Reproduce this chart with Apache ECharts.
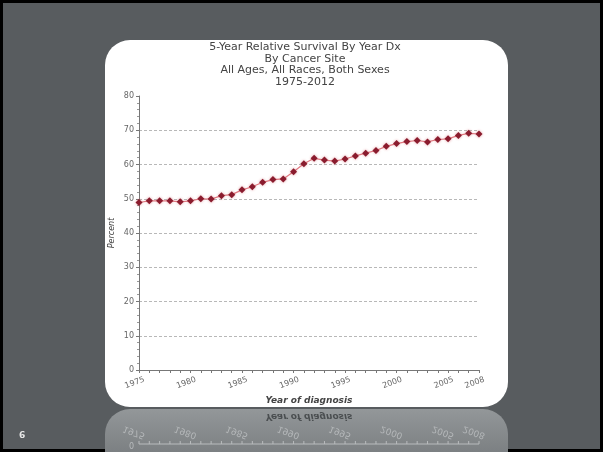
<!DOCTYPE html>
<html>
<head>
<meta charset="utf-8">
<script src="https://cdn.jsdelivr.net/npm/echarts@6/dist/echarts.min.js"></script>
<style>
  html, body { margin: 0; padding: 0; background: #000; }
  #chart { width: 603px; height: 452px; }
</style>
</head>
<body>
<div id="chart"></div>
<script>
// title lines of the chart
const titleLines = [
    '5-Year Relative Survival By Year Dx',
    'By Cancer Site',
    'All Ages, All Races, Both Sexes',
    '1975-2012'
]

const years = ['1975', '1976', '1977', '1978', '1979', '1980', '1981', '1982', '1983', '1984',
    '1985', '1986', '1987', '1988', '1989', '1990', '1991', '1992', '1993', '1994',
    '1995', '1996', '1997', '1998', '1999', '2000', '2001', '2002', '2003', '2004',
    '2005', '2006', '2007', '2008']

// labels shown under the x axis
const labeledYears = ['1975', '1980', '1985', '1990', '1995', '2000', '2005', '2008']

// 5-year relative survival, percent
const survival = [48.9, 49.4, 49.4, 49.4, 49.1, 49.4, 50.0, 49.9, 50.9, 51.2,
    52.6, 53.5, 54.8, 55.6, 55.8, 57.9, 60.2, 61.8, 61.3, 61.0,
    61.6, 62.5, 63.3, 64.1, 65.3, 66.1, 66.7, 67.0, 66.6, 67.3,
    67.5, 68.5, 69.1, 68.9]

const slideNumber = '6'

const font = '"DejaVu Sans", Verdana, sans-serif'
const cardLeft = 105, cardTop = 40, cardWidth = 403, cardHeight = 367
const mirrorY = 407

const dom = document.getElementById('chart')
const myChart = echarts.init(dom, null, {renderer: 'canvas'})

function backgroundGraphics (reflection) {
    let items = [
        {
            type: 'rect', z: -20, silent: true,
            shape: {x: 3, y: 3, width: 597, height: 446},
            style: {fill: '#585c5f'}
        },
        {
            type: 'rect', z: -19, silent: true,
            shape: {x: cardLeft, y: cardTop + cardHeight + 2, width: cardWidth, height: 60, r: [25, 25, 0, 0]},
            style: {
                fill: new echarts.graphic.LinearGradient(0, 0, 0, 1, [
                    {offset: 0, color: '#939799'},
                    {offset: 1, color: '#73777a'}
                ])
            }
        },
        {
            type: 'rect', z: -18, silent: true,
            shape: {x: cardLeft, y: cardTop, width: cardWidth, height: cardHeight, r: 25},
            style: {fill: '#ffffff'}
        },
        {
            type: 'text', z: 10, silent: true,
            x: 305, y: 41,
            style: {
                text: titleLines.join('\n'),
                font: '11px ' + font,
                lineHeight: 11.8,
                fill: '#444',
                align: 'center',
                verticalAlign: 'top'
            }
        },
        {
            type: 'text', z: 10, silent: true,
            x: 19, y: 431,
            style: {text: slideNumber, font: 'bold 9px ' + font, fill: '#e6e6e6'}
        }
    ]
    if (reflection) items.push(reflection)
    return items
}

const option = {
    backgroundColor: '#000',
    animation: false,
    graphic: {elements: backgroundGraphics(null)},
    grid: {left: 139, right: 124, top: 96, bottom: 82},
    xAxis: {
        type: 'category',
        data: years,
        boundaryGap: false,
        name: 'Year of diagnosis',
        nameLocation: 'middle',
        nameGap: 25,
        nameTextStyle: {fontStyle: 'italic', fontWeight: 'bold', fontSize: 9, color: '#444', fontFamily: font},
        axisLine: {lineStyle: {color: '#777', width: 1}},
        axisTick: {show: true, interval: 0, length: 3, lineStyle: {color: '#777'}},
        axisLabel: {
            interval: function (i, v) { return labeledYears.indexOf(v) >= 0 },
            rotate: 20,
            align: 'center',
            verticalAlign: 'top',
            padding: [0, 12, 0, 0],
            fontSize: 8,
            color: '#666',
            fontFamily: font,
            margin: 7
        },
        splitLine: {show: false}
    },
    yAxis: {
        type: 'value',
        min: 0,
        max: 80,
        interval: 10,
        name: 'Percent',
        nameLocation: 'middle',
        nameGap: 23,
        nameMoveOverlap: false,
        nameRotate: 90,
        nameTextStyle: {fontStyle: 'italic', fontSize: 8, color: '#444', fontFamily: font},
        axisLine: {show: true, lineStyle: {color: '#777', width: 1}},
        axisTick: {show: true, length: 3, lineStyle: {color: '#777'}},
        minorTick: {show: true, splitNumber: 5, length: 2, lineStyle: {color: '#999'}},
        axisLabel: {fontSize: 8, color: '#666', fontFamily: font, margin: 5},
        splitLine: {
            show: true,
            showMinLine: false,
            showMaxLine: false,
            lineStyle: {type: [3, 2], color: '#b8b8b8', width: 1}
        }
    },
    series: [
        {
            name: 'survival',
            type: 'line',
            data: survival,
            showAllSymbol: true,
            symbol: 'diamond',
            symbolSize: 7,
            itemStyle: {color: '#8a1c2e', shadowColor: 'rgba(200,60,70,0.5)', shadowBlur: 3},
            lineStyle: {color: '#e07a82', width: 1.2}
        }
    ]
}

if (option && typeof option === 'object') {
    myChart.setOption(option, true)
}

// mirrored reflection of the bottom of the card
let axisY = myChart.convertToPixel({yAxisIndex: 0}, 0)
let x0 = myChart.convertToPixel({xAxisIndex: 0}, years[0])
let x1 = myChart.convertToPixel({xAxisIndex: 0}, years[years.length - 1])
let kids = [
    {type: 'line', shape: {x1: x0, y1: axisY, x2: x1, y2: axisY}, style: {stroke: '#b8bbbd', lineWidth: 1}},
    {
        type: 'text', x: (x0 + x1) / 2, y: axisY + 28,
        style: {text: 'Year of diagnosis', font: 'italic bold 9px ' + font, fill: '#4a4e50', align: 'center', verticalAlign: 'middle'}
    },
    {
        type: 'text', x: x0 - 5, y: axisY,
        style: {text: '0', font: '8px ' + font, fill: '#b8bbbd', align: 'right', verticalAlign: 'middle'}
    }
]
for (let i = 0; i < years.length; i++) {
    let px = myChart.convertToPixel({xAxisIndex: 0}, years[i])
    kids.push({type: 'line', shape: {x1: px, y1: axisY, x2: px, y2: axisY + 3}, style: {stroke: '#b8bbbd', lineWidth: 1}})
    if (labeledYears.indexOf(years[i]) >= 0) {
        kids.push({
            type: 'text', x: px - 5, y: axisY + 12, rotation: 20 * Math.PI / 180,
            style: {text: years[i], font: '9px ' + font, fill: '#b4b7b9', align: 'center', verticalAlign: 'middle'}
        })
    }
}
let reflection = {
    type: 'group', z: -17, silent: true,
    y: 2 * mirrorY, scaleY: -1,
    children: kids
}
myChart.setOption({graphic: {elements: backgroundGraphics(reflection)}}, {replaceMerge: ['graphic']})
</script>
</body>
</html>
